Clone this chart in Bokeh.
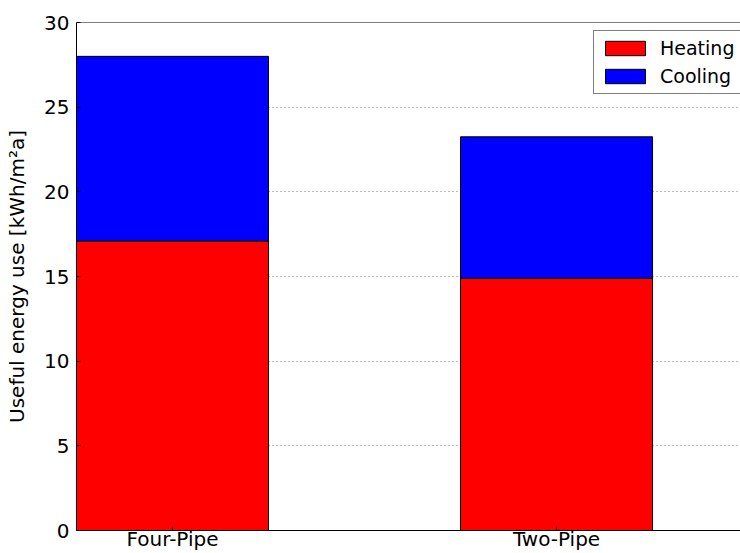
from bokeh.plotting import figure
from bokeh.models import ColumnDataSource, Span, Legend, LegendItem, FixedTicker
from bokeh.embed import file_html
from bokeh.resources import INLINE

categories = ["Four-Pipe", "Two-Pipe"]
heating = [17.1, 14.9]
cooling = [10.9, 8.35]
y_ticks = [0, 5, 10, 15, 20, 25, 30]

xpos = list(range(len(categories)))
tops = [h + c for h, c in zip(heating, cooling)]
src = ColumnDataSource(dict(x=xpos, heating=heating, cooling=cooling, top=tops))

FONT = "DejaVu Sans"
FS = "20px"

p = figure(width=740, height=553, output_backend="svg", toolbar_location=None,
           x_range=(-0.25, 1.479), y_range=(0, 30),
           min_border_left=76, min_border_right=0, min_border_top=22, min_border_bottom=23)
p.outline_line_color = None

r_h = p.vbar(x="x", top="heating", bottom=0, width=0.5, source=src,
             fill_color="#ff0000", line_color="black", line_width=1)
r_c = p.vbar(x="x", top="top", bottom="heating", width=0.5, source=src,
             fill_color="#0000ff", line_color="black", line_width=1)

p.add_layout(Span(location=30, dimension="width", line_color="black", line_width=1))

# axes
p.xaxis.ticker = FixedTicker(ticks=xpos)
p.xaxis.major_label_overrides = {i: c for i, c in enumerate(categories)}
p.yaxis.ticker = FixedTicker(ticks=y_ticks)
for ax in (p.xaxis, p.yaxis):
    ax.major_label_text_font = FONT
    ax.major_label_text_font_size = FS
    ax.major_label_text_color = "black"
    ax.axis_line_color = "black"
    ax.major_tick_in = 4
    ax.major_tick_out = 0
    ax.major_tick_line_color = "black"
    ax.minor_tick_line_color = None
p.xaxis.major_label_standoff = -4
p.yaxis.major_label_standoff = 7
p.yaxis.axis_label = "Useful energy use [kWh/m²a]"
p.yaxis.axis_label_text_font = FONT
p.yaxis.axis_label_text_font_size = FS
p.yaxis.axis_label_text_font_style = "normal"
p.yaxis.axis_label_text_color = "black"
p.yaxis.axis_label_standoff = 12

p.xgrid.grid_line_color = None
p.ygrid.ticker = FixedTicker(ticks=y_ticks[1:-1])
p.ygrid.grid_line_color = "#777777"
p.ygrid.grid_line_dash = "1 3"
p.ygrid.grid_line_width = 1

legend = Legend(items=[LegendItem(label="Heating", renderers=[r_h]),
                       LegendItem(label="Cooling", renderers=[r_c])],
                location=(517, 436))
legend.label_text_font = FONT
legend.label_text_font_size = "19px"
legend.label_text_color = "black"
legend.glyph_width = 50
legend.glyph_height = 18
legend.label_height = 22
legend.label_standoff = 10
legend.spacing = 6
legend.padding = 6
legend.margin = 0
legend.border_line_color = "black"
legend.border_line_width = 1
legend.background_fill_color = "white"
p.add_layout(legend)

open("out.html", "w").write(file_html(p, INLINE))
